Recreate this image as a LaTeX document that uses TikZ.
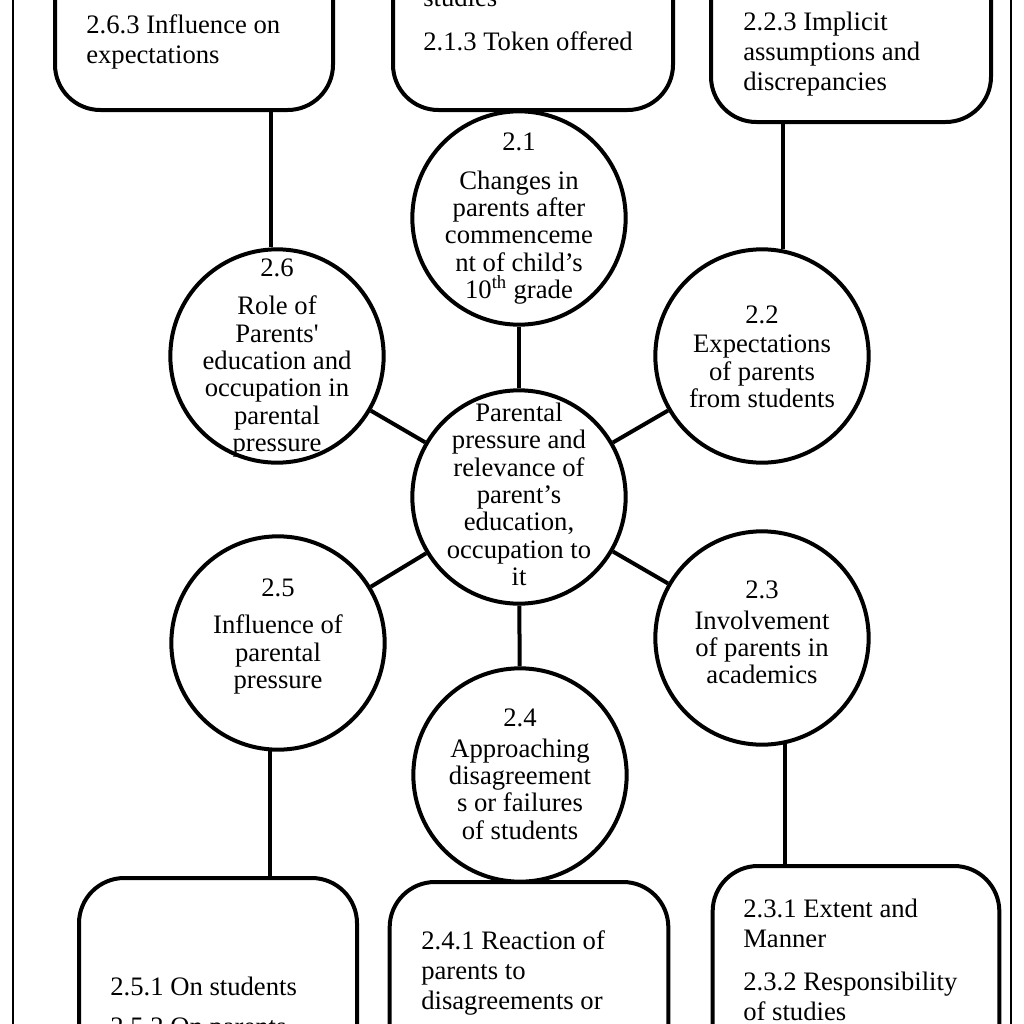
\documentclass[tikz,border=0pt]{standalone}
\usepackage{fontspec}
\setmainfont{Liberation Serif}
\begin{document}
\begin{tikzpicture}[x=0.75pt,y=-0.75pt,
  circ/.style={circle,draw,line width=3pt,minimum size=160pt,inner sep=0pt,fill=white},
  box/.style={rectangle,rounded corners=34pt,draw,line width=3pt,fill=white,minimum width=#1,minimum height=165pt,inner sep=0pt},
  link/.style={line width=3pt},
  frame/.style={line width=1pt},
  ctext/.style={align=center,font=\fontsize{20}{20.5}\selectfont,inner sep=0pt},
  btext/.style={align=left,font=\fontsize{20}{22.5}\selectfont,inner sep=0pt,anchor=west},
]
\useasboundingbox (0,0) rectangle (1024,1024);
\clip (0,0) rectangle (1024,1024);
\draw[frame] (13,-20) rectangle (1011,1044);

% boxes
\node[box=208.5pt] (tl) at (194,0) {};
\node[box=210pt] (tm) at (533,0) {};
\node[box=210pt] (tr) at (851,12) {};
\node[box=208.5pt] (bl) at (218,988) {};
\node[box=209pt] (bm) at (529,992) {};
\node[box=215pt] (br) at (856,976) {};

% circles
\node[circ] (c0) at (519,497) {};
\node[circ] (c21) at (519,218) {};
\node[circ] (c22) at (762,356) {};
\node[circ] (c23) at (762,638) {};
\node[circ] (c24) at (520,775) {};
\node[circ] (c25) at (278,643) {};
\node[circ] (c26) at (277,356) {};

% spokes
\foreach \n in {c21,c22,c23,c24,c25,c26} \draw[link] (c0) -- (\n);
% box connectors
\draw[link] (c26.93) -- (c26.93 |- tl.south);
\draw[link] (c22.79) -- (c22.79 |- tr.south);
\draw[link] (c25.266) -- (c25.266 |- bl.north);
\draw[link] (c23.282) -- (c23.282 |- br.north);

% circle texts
\node[ctext] (n21) at (519,142) {2.1};
\node[ctext] (t21) at (519,237.5) {Changes in\\parents after\\commenceme\\nt of child’s\\10\smash{\textsuperscript{th}} grade};
\node[ctext] (n26) at (277,268) {2.6};
\node[ctext] (t26) at (277,376.5) {Role of\\Parents\textquotesingle\\education and\\occupation in\\parental\\pressure};
\node[ctext] (n22) at (762,315) {2.2};
\node[ctext] (t22) at (762,371.5) {Expectations\\of parents\\from students};
\node[ctext] (t0) at (519,494.5) {Parental\\pressure and\\relevance of\\parent’s\\education,\\occupation to\\it};
\node[ctext] (n25) at (278,588) {2.5};
\node[ctext] (t25) at (278,654.5) {Influence of\\parental\\pressure};
\node[ctext] (n23) at (762,590) {2.3};
\node[ctext] (t23) at (762,647.5) {Involvement\\of parents in\\academics};
\node[ctext] (n24) at (520,718) {2.4};
\node[ctext] (t24) at (520,789) {Approaching\\disagreement\\s or failures\\of students};

% box texts
\node[btext] (b263) at (86,42) {2.6.3 Influence on\\expectations};
\node[btext] (b212) at (423,-3) {studies};
\node[btext] (b213) at (423,41) {2.1.3 Token offered};
\node[btext] (b223) at (743,54) {2.2.3 Implicit\\assumptions and\\discrepancies};
\node[btext] (b251) at (110,986) {2.5.1 On students};
\node[btext] (b252) at (110,1029) {2.5.2 On parents};
\node[btext] (b241) at (421,973) {2.4.1 Reaction of\\parents to\\disagreements or};
\node[btext] (b231) at (743,923) {2.3.1 Extent and\\Manner};
\node[btext] (b232) at (743,996) {2.3.2 Responsibility\\of studies};
\end{tikzpicture}
\end{document}
